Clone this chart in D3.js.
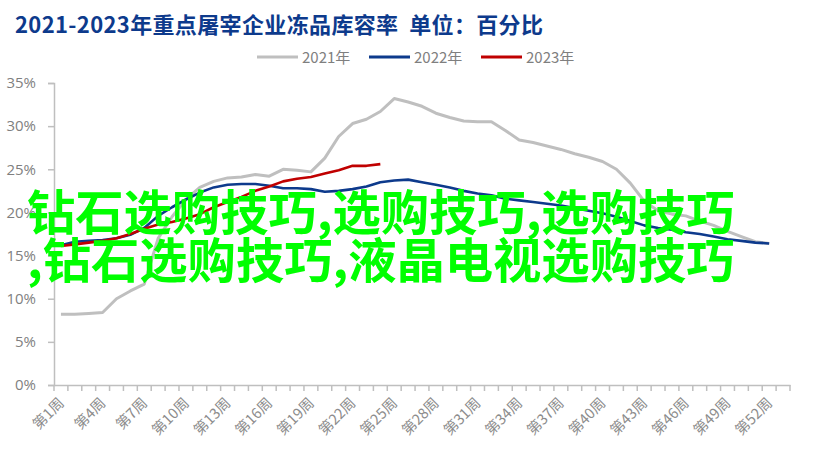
<!DOCTYPE html>
<html><head><meta charset="utf-8">
<script src="https://cdn.jsdelivr.net/npm/d3@7"></script>
<style>body{margin:0;background:#fff;} svg{display:block;}</style>
</head><body>
<svg id="chart" width="817" height="463"></svg>
<script>
const title = "2021-2023年重点屠宰企业冻品库容率  单位：百分比";
const weeks = d3.range(1, 54); // 53 category slots
const tickWeeks = [1,4,7,10,13,16,19,22,25,28,31,34,37,40,43,46,49,52];
const yTicks = [0,5,10,15,20,25,30,35];
const seriesNames = ["2021年","2022年","2023年"];
const seriesColors = ["#bfbfbf","#0d3a8c","#c00000"];
const s2021 = [8.2,8.2,8.3,8.4,10.0,10.9,11.7,17.0,19.5,21.5,22.9,23.6,24.0,24.1,24.4,24.2,25.0,24.9,24.7,26.3,28.8,30.3,30.8,31.7,33.2,32.8,32.3,31.5,31.0,30.6,30.5,30.5,29.5,28.4,28.1,27.7,27.3,26.8,26.4,25.9,25.0,23.4,21.3,20.2,19.8,19.6,19.0,18.5,17.8,17.2,16.6,16.4];
const s2022 = [16.2,16.6,16.7,16.8,17.0,17.4,18.2,19.6,20.6,21.5,22.3,22.9,23.2,23.3,23.3,23.1,22.8,22.8,22.7,22.4,22.5,22.7,23.0,23.5,23.7,23.8,23.5,23.2,22.9,22.5,22.2,22.0,21.6,21.4,21.2,21.0,20.8,20.5,20.2,19.9,19.5,19.0,18.5,18.2,18.0,17.7,17.5,17.2,16.9,16.7,16.5,16.4];
const s2023 = [16.1,16.3,16.5,16.7,17.0,17.5,18.1,18.6,18.9,19.3,19.8,20.6,21.2,21.8,22.5,23.0,23.6,23.9,24.1,24.5,24.9,25.4,25.4,25.6];
const overlay = ["钻石选购技巧,选购技巧,选购技巧", ",钻石选购技巧,液晶电视选购技巧"];

const svg = d3.select("#chart");
const L = 54, R = 790, T = 83, B = 385;
const x = d3.scaleBand().domain(weeks).range([L, R]);
const y = d3.scaleLinear().domain([0, 35]).range([B, T]);
const axisColor = "#bfbfbf", textColor = "#7f7f7f";

svg.append("text").attr("x", 15).attr("y", 33)
  .attr("font-family", "Noto Sans CJK SC").attr("font-weight", "bold")
  .attr("font-size", 22).attr("fill", "#0d3a8c").attr("xml:space","preserve")
  .attr("textLength", 528).attr("lengthAdjust", "spacing").text(title);

// y axis
const ya = svg.append("g").attr("transform", `translate(${L},0)`)
  .call(d3.axisLeft(y).tickValues(yTicks).tickFormat(d => d + "%").tickSize(6).tickPadding(12));
ya.select(".domain").attr("stroke", axisColor).attr("stroke-width", 1.5);
ya.selectAll(".tick line").attr("stroke", axisColor).attr("stroke-width", 1.5);
ya.selectAll(".tick text").attr("fill", textColor).attr("font-size", 15).attr("font-family", "Open Sans");

// x axis
const xa = svg.append("g").attr("transform", `translate(0,${B})`)
  .call(d3.axisBottom(x).tickSize(0).tickFormat(""));
xa.select(".domain").attr("stroke", axisColor).attr("stroke-width", 1.5);
xa.selectAll(".tick").remove();
const bounds = weeks.map(w => x(w)).concat([R]);
xa.selectAll("line.bt").data(bounds).enter().append("line")
  .attr("x1", d => d).attr("x2", d => d).attr("y1", 0).attr("y2", 6)
  .attr("stroke", axisColor).attr("stroke-width", 1.5);
svg.append("g").selectAll("text").data(tickWeeks).enter().append("text")
  .attr("transform", d => `translate(${x(d) + x.bandwidth()/2 + 4},${B + 19}) rotate(-45)`)
  .attr("text-anchor", "end").attr("font-size", 14.5).attr("font-family", "Noto Sans CJK SC")
  .attr("fill", "#8c8c8c").text(d => "第" + d + "周");

// lines
const line = d3.line().x((d, i) => x(i + 1) + x.bandwidth()/2).y(d => y(d));
[s2021, s2022, s2023].forEach((s, k) => {
  svg.append("path").datum(s).attr("d", line).attr("fill", "none")
    .attr("stroke", seriesColors[k]).attr("stroke-width", k === 0 ? 3 : 2.6)
    .attr("stroke-linejoin", "round");
});

// legend
const legX = [257, 369, 481];
seriesNames.forEach((n, k) => {
  const g = svg.append("g").attr("transform", `translate(${legX[k]},57)`);
  g.append("line").attr("x1", 0).attr("x2", 41).attr("stroke", seriesColors[k]).attr("stroke-width", 3);
  g.append("text").attr("x", 45).attr("y", 5.5).attr("font-size", 15).attr("font-family", "Noto Sans CJK SC")
    .attr("fill", textColor).text(n);
});

// overlay text
overlay.forEach((t, i) => {
  svg.append("text").attr("x", 27).attr("y", 230 + i * 48)
    .attr("font-family", "Noto Sans CJK SC").attr("font-weight", "bold")
    .attr("font-size", 48.3).attr("fill", "#00ff00").text(t);
});
</script>
</body></html>
